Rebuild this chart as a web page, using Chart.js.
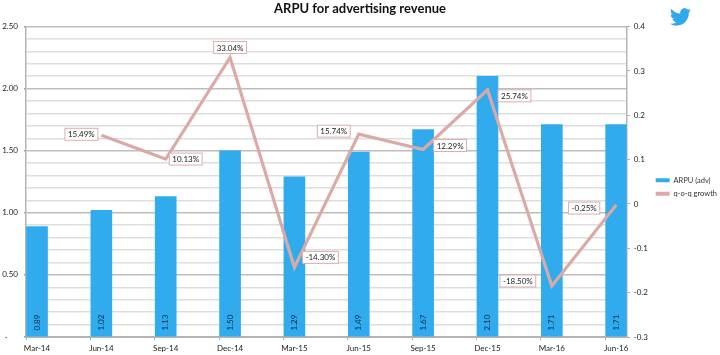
<!DOCTYPE html>
<html>
<head>
<meta charset="utf-8">
<style>
html,body{margin:0;padding:0;background:#fff;}
#wrap{position:relative;width:720px;height:355px;overflow:hidden;}
canvas{display:block;}
#bird{position:absolute;left:670px;top:7px;width:21px;height:19px;}
</style>
<script src="https://cdn.jsdelivr.net/npm/chart.js@4/dist/chart.umd.min.js"></script>
</head>
<body>
<div id="wrap">
<canvas id="c" width="720" height="355"></canvas>
<svg id="bird" viewBox="0 1 24 21" preserveAspectRatio="none"><path fill="#2fa9ea" d="M23.953 4.57a10 10 0 01-2.825.775 4.958 4.958 0 002.163-2.723c-.951.555-2.005.959-3.127 1.184a4.92 4.92 0 00-8.384 4.482C7.69 8.095 4.067 6.13 1.64 3.162a4.822 4.822 0 00-.666 2.475c0 1.71.87 3.213 2.188 4.096a4.904 4.904 0 01-2.228-.616v.06a4.923 4.923 0 003.946 4.827 4.996 4.996 0 01-2.212.085 4.936 4.936 0 004.604 3.417 9.867 9.867 0 01-6.102 2.105c-.39 0-.779-.023-1.17-.067a13.995 13.995 0 007.557 2.209c9.053 0 13.998-7.496 13.998-13.985 0-.21 0-.42-.015-.63A9.935 9.935 0 0024 4.59z"/></svg>
</div>
<script>
const categories = ['Mar-14','Jun-14','Sep-14','Dec-14','Mar-15','Jun-15','Sep-15','Dec-15','Mar-16','Jun-16'];
const arpuValues = [0.89,1.02,1.13,1.50,1.29,1.49,1.67,2.10,1.71,1.71];
const growthValues = [null,0.1549,0.1013,0.3304,-0.1430,0.1574,0.1229,0.2574,-0.1850,-0.0025];
const growthLabels = ['','15.49%','10.13%','33.04%','-14.30%','15.74%','12.29%','25.74%','-18.50%','-0.25%'];

const FONT = 'Lato, "Open Sans", sans-serif';
const labelOffsets = [null,[-20,-1],[20,0],[0,-10],[26,-10],[-25,-3],[27,-4],[27,6],[-34,-5],[-32,3]];
const X_MIN = -0.171, X_MAX = 9.163;

const labelsPlugin = {
  id: 'valueLabels',
  afterLayout(chart) {
    chart.titleBlock.left = 0;
    chart.titleBlock.right = chart.width;
  },
  afterDatasetsDraw(chart) {
    const ctx = chart.ctx;
    const bars = chart.getDatasetMeta(0).data;
    ctx.save();
    ctx.font = '8px ' + FONT;
    ctx.fillStyle = '#0c2a42';
    ctx.textAlign = 'center';
    ctx.textBaseline = 'middle';
    const by = chart.scales.y.bottom - 14.5;
    bars.forEach((b, i) => {
      ctx.save();
      ctx.translate(b.x, by);
      ctx.rotate(-Math.PI / 2);
      ctx.fillText(arpuValues[i].toFixed(2), 0, 0);
      ctx.restore();
    });
    const pts = chart.getDatasetMeta(1).data;
    pts.forEach((p, i) => {
      if (!growthLabels[i]) return;
      const [dx, dy] = labelOffsets[i];
      const w = ctx.measureText(growthLabels[i]).width + 6, h = 12;
      const cx = p.x + dx, cy = p.y + dy;
      ctx.fillStyle = '#fff';
      ctx.strokeStyle = '#dcaeaa';
      ctx.lineWidth = 1;
      ctx.fillRect(cx - w / 2, cy - h / 2, w, h);
      ctx.strokeRect(cx - w / 2, cy - h / 2, w, h);
      ctx.fillStyle = '#222';
      ctx.fillText(growthLabels[i], cx, cy + 0.5);
    });
    ctx.restore();
  }
};

new Chart(document.getElementById('c'), {
  type: 'bar',
  data: {
    datasets: [
      {
        type: 'bar', label: 'ARPU (adv)', yAxisID: 'y', xAxisID: 'x', order: 2,
        data: arpuValues.map((v, i) => ({x: i, y: v})),
        backgroundColor: '#30acee', borderWidth: 0, barThickness: 21
      },
      {
        type: 'line', label: 'q-o-q growth', yAxisID: 'y1', xAxisID: 'x', order: 1,
        data: growthValues.map((v, i) => ({x: i, y: v})),
        borderColor: '#dcaaa6', backgroundColor: '#dcaaa6', borderWidth: 3.2,
        pointRadius: 0, tension: 0, spanGaps: false, borderJoinStyle: 'miter'
      }
    ]
  },
  plugins: [labelsPlugin],
  options: {
    responsive: false, animation: false,
    layout: {padding: {top: 0, left: 0, right: -7, bottom: 0}},
    plugins: {
      title: {display: true, text: 'ARPU for advertising revenue', color: '#111',
        font: {family: FONT, size: 13, weight: 'bold'}, padding: {top: 1, bottom: 10}},
      legend: {display: true, position: 'right', align: 'center',
        title: {display: true, text: ' ', font: {size: 1}, padding: {top: 9, bottom: 9}},
        labels: {boxWidth: 14, boxHeight: 4, padding: 6, color: '#333', font: {family: FONT, size: 7.5},
          sort: (a, b) => a.datasetIndex - b.datasetIndex,
          generateLabels(chart) {
            return Chart.defaults.plugins.legend.labels.generateLabels(chart).map(l => Object.assign(l, {lineWidth: 0}));
          }}},
      tooltip: {enabled: false}
    },
    scales: {
      x: {
        type: 'linear', position: 'bottom', min: X_MIN, max: X_MAX, offset: false, weight: 2,
        afterBuildTicks(s) { s.ticks = categories.map((_, i) => ({value: i})); },
        afterFit(s) { s.height = 15; },
        ticks: {autoSkip: false, maxRotation: 0, padding: 4, color: '#222', font: {family: FONT, size: 8},
          callback: (v) => categories[v] },
        grid: {display: false, offset: false, drawTicks: false},
        border: {display: false}
      },
      xMarks: {
        type: 'linear', position: 'bottom', min: X_MIN, max: X_MAX, offset: false, weight: 1,
        afterBuildTicks(s) { s.ticks = categories.map((_, i) => ({value: i + X_MIN})); },
        afterFit(s) { s.height = 3; },
        ticks: {autoSkip: false, display: false},
        grid: {display: true, drawOnChartArea: false, offset: false, tickLength: 3, tickColor: '#b0b0b0', lineWidth: 1},
        border: {display: true, color: '#b4b4b4', width: 2}
      },
      y: {
        type: 'linear', position: 'left', min: 0, max: 2.5,
        afterFit(s) { s.width = 26; },
        ticks: {stepSize: 0.1, autoSkip: false, padding: 6, color: '#222', font: {family: FONT, size: 8},
          callback: (v) => {
            const t = Math.round(v * 10);
            if (t % 5 !== 0) return '';
            return t === 0 ? '-     ' : (t / 10).toFixed(2);
          }},
        grid: {
          tickLength: 2,
          lineWidth: 1.6,
          color: (c) => Math.round(c.tick.value * 10) % 5 === 0 ? '#bdbdbd' : '#dddddd',
          tickColor: (c) => Math.round(c.tick.value * 10) % 5 === 0 ? '#9a9a9a' : 'rgba(0,0,0,0)'
        },
        border: {display: true, color: '#b4b4b4', width: 1.5}
      },
      y1: {
        type: 'linear', position: 'right', min: -0.3, max: 0.4,
        afterFit(s) { s.width = 23; },
        ticks: {stepSize: 0.1, padding: 4, color: '#222', font: {family: FONT, size: 8},
          callback: (v) => String(Math.round(v * 10) / 10)},
        grid: {drawOnChartArea: false, tickLength: 3, tickColor: '#9a9a9a'},
        border: {display: true, color: '#b4b4b4', width: 1.5}
      }
    }
  }
});
</script>
</body>
</html>
